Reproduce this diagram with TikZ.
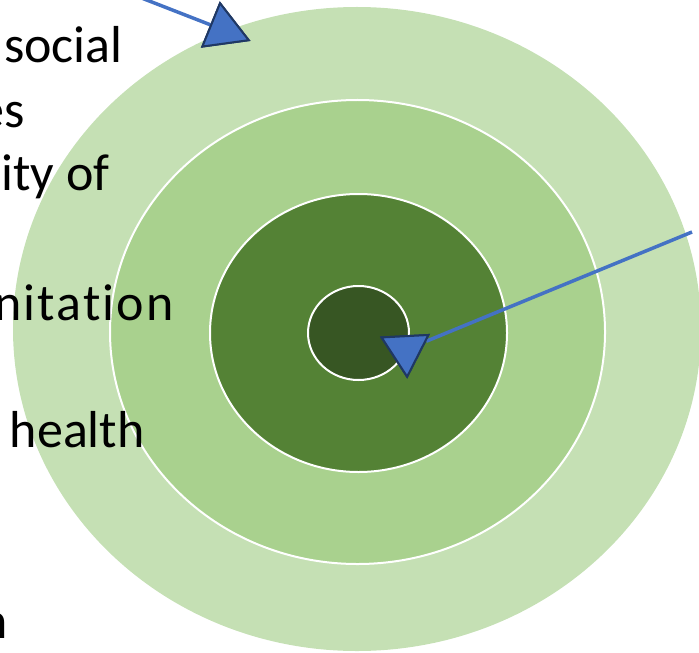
\documentclass[tikz,border=0pt]{standalone}
\usepackage{fontspec}
\setmainfont{Carlito}[RawFeature={-liga;-clig;-calt;-dlig}]
\usepackage{tikz}
\usetikzlibrary{shapes.geometric, positioning}
\definecolor{ringpale}{HTML}{C5E0B4}
\definecolor{ringlight}{HTML}{A9D18E}
\definecolor{ringmid}{HTML}{548235}
\definecolor{ringdark}{HTML}{375623}
\definecolor{pointerblue}{HTML}{4472C4}
\definecolor{pointeredge}{HTML}{1F3864}
\tikzstyle{ring} = [draw=white, line width=1pt]
\tikzstyle{label} = [inner sep=0pt, anchor=base east, font=\fontsize{26pt}{31.8pt}\selectfont]
\tikzstyle{pointer} = [regular polygon, regular polygon sides=3, minimum size=27pt, inner sep=0pt, draw=pointeredge, line width=1pt, fill=pointerblue]
\tikzstyle{lead} = [draw=pointerblue, line width=1.75pt]

\begin{document}
\begin{tikzpicture}[x=0.5pt, y=-0.5pt]
\useasboundingbox (0,0) rectangle (699,652);
\clip (0,0) rectangle (699,652);

% Rings
\fill [ringpale] (357,329) ellipse [x radius=172pt, y radius=161pt];
\filldraw [ring, fill=ringlight] (357.5,332) ellipse [x radius=123.75pt, y radius=116pt];
\filldraw [ring, fill=ringmid] (358.5,333) ellipse [x radius=74.25pt, y radius=69.5pt];
\filldraw [ring, fill=ringdark] (358.5,333) ellipse [x radius=25.25pt, y radius=23.5pt];

% Text column (cut at the left edge)
\node (social) [label] at (123,63) {social};
\node (es) [label] at (25,127) {es};
\node (qualityof) [label] at (110,190) {ity of};
\node (sanitation) [label] at (174,320) {\addfontfeature{LetterSpace=4}nitation};
\node (health) [label] at (145,447) {health};
\node (lastn) [label] at (8,638) {n};

% Pointers
\node (outertip) [pointer, rotate=7.8] at (223.7,30) {};
\node (coretip) [pointer, rotate=-177] at (405.7,349.7) {};
\coordinate (outerstart) at (139,-3);
\coordinate (corestart) at (692,232);

\draw [lead] (outerstart) -- (outertip);
\draw [lead] (corestart) -- (coretip);
\node [pointer, rotate=7.8] at (outertip.center) {};
\node [pointer, rotate=-177] at (coretip.center) {};

\end{tikzpicture}
\end{document}
